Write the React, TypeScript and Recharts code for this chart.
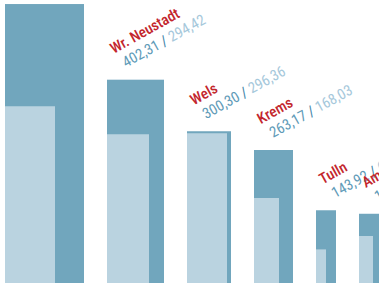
import React from 'react';
import { ComposedChart, XAxis, YAxis, ReferenceArea } from 'recharts';

// Data
const cities = ['St. Pölten', 'Wr. Neustadt', 'Wels', 'Krems', 'Tulln', 'Amstetten'];
const valueDark = [552.0, 402.31, 300.3, 263.17, 143.92, 137.0];
const valueLight = [350.0, 294.42, 296.36, 168.03, 66.5, 93.0];
// second quantity encoded as bar widths (x-axis units)
const widthDark = [79, 57, 44, 39, 20, 30];
const widthLight = [50, 42, 40, 25, 10, 14];

const GAP = 23;
const OFFSET = 5;
const ANGLE = -29;

const fmt = (v: number) => v.toFixed(2).replace('.', ',');

const rows = cities.map((city, i) => {
  const start = OFFSET + widthDark.slice(0, i).reduce((s, w) => s + w + GAP, 0);
  return {
    city,
    dark: valueDark[i],
    light: valueLight[i],
    start,
    endDark: start + widthDark[i],
    endLight: start + widthLight[i],
  };
});

const DARK = '#71a6bd';
const LIGHT = '#bad3e0';
const RED = '#c3262d';
const NUM = '#5f9bb8';
const SLASH = '#3f84a8';
const NUM2 = '#a6c8db';
const FONT = "'Roboto Condensed', 'Liberation Sans Narrow', 'Arial Narrow', Roboto, sans-serif";

const makeDarkShape = (row: any) => (p: any) => {
  const x = Number(p.x);
  const y = Number(p.y);
  const ax = x + 19;
  const ay = y - 12;
  const rad = (ANGLE * Math.PI) / 180;
  // city line: 4px back along the text, 18px up perpendicular
  const cx = ax - 4 * Math.cos(rad) + 18 * Math.sin(rad);
  const cy = ay - 4 * Math.sin(rad) - 18 * Math.cos(rad);
  const showLabel = ay - 40 > 0;
  return (
    <g>
      <rect x={x} y={y} width={p.width} height={p.height} fill={DARK} />
      {showLabel && (
        <text x={cx} y={cy} fill={RED} fontSize={15} fontWeight={500} fontFamily={FONT} transform={`rotate(${ANGLE}, ${cx}, ${cy})`}>
          {row.city}
        </text>
      )}
      {showLabel && (
        <text x={ax} y={ay} fontSize={15} fontFamily={FONT} transform={`rotate(${ANGLE}, ${ax}, ${ay})`}>
          <tspan fill={NUM}>{fmt(row.dark)}</tspan>
          <tspan fill={SLASH}>{'\u00A0/\u00A0'}</tspan>
          <tspan fill={NUM2}>{fmt(row.light)}</tspan>
        </text>
      )}
    </g>
  );
};

export default function App() {
  return (
    <div style={{ position: 'absolute', left: 0, top: 0, width: 379, height: 284, background: '#fff' }}>
      <ComposedChart width={379} height={284} data={rows} margin={{ top: 0, right: 0, bottom: 1, left: 0 }}>
        <XAxis type="number" dataKey="start" domain={[0, 379]} hide allowDataOverflow />
        <YAxis type="number" domain={[0, 560]} hide allowDataOverflow />
        {rows.map((r) => (
          <ReferenceArea
            key={'d' + r.city}
            x1={r.start}
            x2={r.endDark}
            y1={0}
            y2={r.dark}
            ifOverflow="visible"
            fill={DARK}
            fillOpacity={1}
            stroke="none"
            shape={makeDarkShape(r)}
          />
        ))}
        {rows.map((r) => (
          <ReferenceArea
            key={'l' + r.city}
            x1={r.start}
            x2={r.endLight}
            y1={0}
            y2={r.light}
            ifOverflow="visible"
            fill={LIGHT}
            fillOpacity={1}
            stroke="none"
          />
        ))}
      </ComposedChart>
    </div>
  );
}
